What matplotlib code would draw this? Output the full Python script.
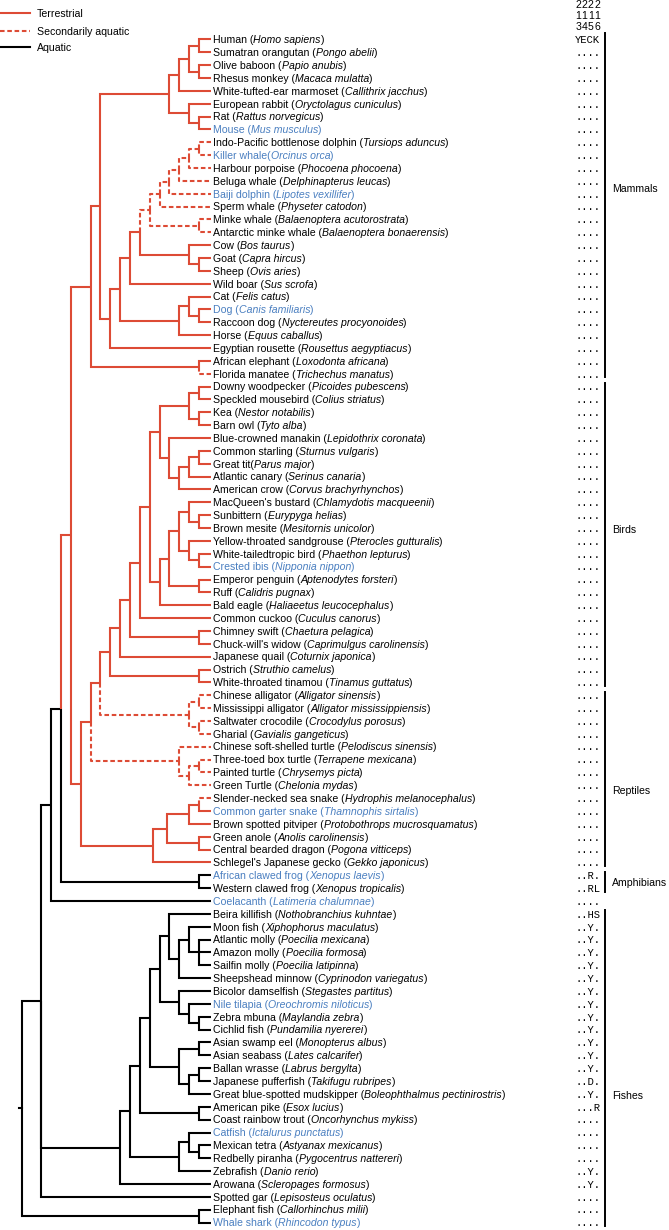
import matplotlib
matplotlib.use("Agg")
import matplotlib.pyplot as plt

plt.rcParams['font.family'] = ['Liberation Sans', 'DejaVu Sans']

# Leaf labels, top to bottom
COMMON = [
    "Human", "Sumatran orangutan", "Olive baboon", "Rhesus monkey",
    "White-tufted-ear marmoset", "European rabbit", "Rat", "Mouse",
    "Indo-Pacific bottlenose dolphin", "Killer whale", "Harbour porpoise",
    "Beluga whale", "Baiji dolphin", "Sperm whale", "Minke whale",
    "Antarctic minke whale", "Cow", "Goat", "Sheep", "Wild boar", "Cat", "Dog",
    "Raccoon dog", "Horse", "Egyptian rousette", "African elephant",
    "Florida manatee",
    "Downy woodpecker", "Speckled mousebird", "Kea", "Barn owl",
    "Blue-crowned manakin", "Common starling", "Great tit", "Atlantic canary",
    "American crow", "MacQueen's bustard", "Sunbittern", "Brown mesite",
    "Yellow-throated sandgrouse", "White-tailedtropic bird", "Crested ibis",
    "Emperor penguin", "Ruff", "Bald eagle", "Common cuckoo", "Chimney swift",
    "Chuck-will's widow", "Japanese quail", "Ostrich", "White-throated tinamou",
    "Chinese alligator", "Mississippi alligator", "Saltwater crocodile",
    "Gharial", "Chinese soft-shelled turtle", "Three-toed box turtle",
    "Painted turtle", "Green Turtle", "Slender-necked sea snake",
    "Common garter snake", "Brown spotted pitviper", "Green anole",
    "Central bearded dragon", "Schlegel's Japanese gecko",
    "African clawed frog", "Western clawed frog", "Coelacanth",
    "Beira killifish", "Moon fish", "Atlantic molly", "Amazon molly",
    "Sailfin molly", "Sheepshead minnow", "Bicolor damselfish", "Nile tilapia",
    "Zebra mbuna", "Cichlid fish", "Asian swamp eel", "Asian seabass",
    "Ballan wrasse", "Japanese pufferfish", "Great blue-spotted mudskipper",
    "American pike", "Coast rainbow trout", "Catfish", "Mexican tetra",
    "Redbelly piranha", "Zebrafish", "Arowana", "Spotted gar", "Elephant fish",
    "Whale shark",
]

SCIENTIFIC = [
    "Homo sapiens", "Pongo abelii", "Papio anubis", "Macaca mulatta",
    "Callithrix jacchus", "Oryctolagus cuniculus", "Rattus norvegicus",
    "Mus musculus", "Tursiops aduncus", "Orcinus orca", "Phocoena phocoena",
    "Delphinapterus leucas", "Lipotes vexillifer", "Physeter catodon",
    "Balaenoptera acutorostrata", "Balaenoptera bonaerensis", "Bos taurus",
    "Capra hircus", "Ovis aries", "Sus scrofa", "Felis catus",
    "Canis familiaris", "Nyctereutes procyonoides", "Equus caballus",
    "Rousettus aegyptiacus", "Loxodonta africana", "Trichechus manatus",
    "Picoides pubescens", "Colius striatus", "Nestor notabilis", "Tyto alba",
    "Lepidothrix coronata", "Sturnus vulgaris", "Parus major",
    "Serinus canaria", "Corvus brachyrhynchos", "Chlamydotis macqueenii",
    "Eurypyga helias", "Mesitornis unicolor", "Pterocles gutturalis",
    "Phaethon lepturus", "Nipponia nippon", "Aptenodytes forsteri",
    "Calidris pugnax", "Haliaeetus leucocephalus", "Cuculus canorus",
    "Chaetura pelagica", "Caprimulgus carolinensis", "Coturnix japonica",
    "Struthio camelus", "Tinamus guttatus", "Alligator sinensis",
    "Alligator mississippiensis", "Crocodylus porosus", "Gavialis gangeticus",
    "Pelodiscus sinensis", "Terrapene mexicana", "Chrysemys picta",
    "Chelonia mydas", "Hydrophis melanocephalus", "Thamnophis sirtalis",
    "Protobothrops mucrosquamatus", "Anolis carolinensis", "Pogona vitticeps",
    "Gekko japonicus", "Xenopus laevis", "Xenopus tropicalis",
    "Latimeria chalumnae", "Nothobranchius kuhntae", "Xiphophorus maculatus",
    "Poecilia mexicana", "Poecilia formosa", "Poecilia latipinna",
    "Cyprinodon variegatus", "Stegastes partitus", "Oreochromis niloticus",
    "Maylandia zebra", "Pundamilia nyererei", "Monopterus albus",
    "Lates calcarifer", "Labrus bergylta", "Takifugu rubripes",
    "Boleophthalmus pectinirostris", "Esox lucius", "Oncorhynchus mykiss",
    "Ictalurus punctatus", "Astyanax mexicanus", "Pygocentrus nattereri",
    "Danio rerio", "Scleropages formosus", "Lepisosteus oculatus",
    "Callorhinchus milii", "Rhincodon typus",
]

# residues 213-216, dots = same as human
CODES = (["YECK"] + ["...."] * 64 + ["..R.", "..RL", "....", "..HS"]
         + ["..Y."] * 12 + ["..D.", "..Y.", "...R", "....", "....", "....",
                            "....", "..Y.", "..Y.", "....", "....", "...."])
HEADER = ["2222", "1111", "3456"]

BLUE_NAMES = {"Mouse", "Killer whale", "Baiji dolphin", "Dog", "Crested ibis",
              "Common garter snake", "African clawed frog", "Coelacanth",
              "Nile tilapia", "Catfish", "Whale shark"}
NO_GAP = {"Killer whale", "Great tit"}

GROUPS = ["Mammals", "Birds", "Reptiles", "Amphibians", "Fishes"]
GROUP_ROWS = [(1, 27), (28, 51), (52, 65), (66, 67), (69, 93)]

# topology, leaves numbered in drawing order
# * = secondarily aquatic, ! = terrestrial clade, @h = node depth
EUARCH = "((((1,2),(3,4)),5),(6,(7,8)))"
CETACEA = "((((((9*,10*)*,11*)*,12*)*,13*)*,14*)*,(15*,16*)*)*"
LAURA = "((((CET,(17,(18,19))),20),((21,(22,23)),24)),25)"
MAMMALS = "((EUA,LAU),(26,27*))"
BIRDS = ("((((((((28,29),(30,31)),(32,(((33,34),35),36))),"
         "((((37,(38,39)),(40,(41,42))),(43,44)),45)),46),(47,48)),49),(50,51))")
CROCS = "((52*,53*)*,(54*,55*)*)*"
TURTLES = "(56*,((57*,58*)*,59*)*)*"
SQUAMATA = "((((60*,61),62),(63,64))@4.2,65)@5.7"
SAUROPSIDS = "(((BIR,CRO),TUR),SQU)"
ACTINO = ("((((((69,((70,(71,72,73)),74)),(75,(76,(77,78)))),"
          "((79,80),((81,82),83))),(84,85)),((86,(87,88)),89)),90),91)")
TREE = "((((((MAM,SAU)!,(66,67)),68),ACT),(92,93))"

newick = (TREE.replace("MAM", MAMMALS).replace("SAU", SAUROPSIDS)
          .replace("ACT", ACTINO).replace("EUA", EUARCH).replace("LAU", LAURA)
          .replace("CET", CETACEA).replace("BIR", BIRDS).replace("CRO", CROCS)
          .replace("TUR", TURTLES).replace("SQU", SQUAMATA))


def parse(s, i=0):
    node = {"kids": [], "leaf": None, "dash": False, "red": False, "fix": None}
    if s[i] == "(":
        i += 1
        while True:
            kid, i = parse(s, i)
            node["kids"].append(kid)
            if s[i] == ",":
                i += 1
            else:
                i += 1
                break
    else:
        j = i
        while s[i].isdigit():
            i += 1
        node["leaf"] = int(s[j:i])
    while i < len(s) and s[i] in "*!@":
        if s[i] == "@":
            j = i + 1
            i = j
            while s[i].isdigit() or s[i] == ".":
                i += 1
            node["fix"] = float(s[j:i])
            continue
        node["dash" if s[i] == "*" else "red"] = True
        i += 1
    return node, i


root, _ = parse(newick)

# layout in pixel units
Y0, DY = 39.4, 12.86
X_TIP, X_NODE0, STEP = 211, 208.8, 9.85
RED = "#dd4b35"
BLUE = "#4a7fc0"


def layout(n):
    if n["leaf"] is not None:
        n["h"] = 0
        n["y"] = Y0 + (n["leaf"] - 1) * DY
        n["x"] = X_TIP
        return
    for k in n["kids"]:
        layout(k)
    n["h"] = max(k["h"] for k in n["kids"]) + 1
    n["y"] = (n["kids"][0]["y"] + n["kids"][-1]["y"]) / 2
    n["x"] = X_NODE0 - STEP * (n["fix"] if n["fix"] else n["h"])


layout(root)

fig = plt.figure(figsize=(6.69, 12.30), dpi=100)
ax = fig.add_axes([0, 0, 1, 1])
ax.set_xlim(0, 669)
ax.set_ylim(1230, 0)
ax.axis("off")

LW = 1.5
DASH = (0, (2.2, 1.3))


def draw(n, red=False):
    for k in n["kids"]:
        kred = red or k["red"]
        ax.plot([n["x"], n["x"], k["x"]], [n["y"], k["y"], k["y"]],
                color=RED if kred else "black", lw=LW,
                ls=DASH if k["dash"] else "-",
                solid_joinstyle="miter", solid_capstyle="butt")
        draw(k, kred)


draw(root)
ax.plot([root["x"] - 3, root["x"]], [root["y"], root["y"]], color="black", lw=LW)

FS = 7.6
BASE = 3.8   # baseline offset below the row centre

# legend
for yy, lab, col, ls in [(13.3, "Terrestrial", RED, "-"),
                         (31, "Secondarily aquatic", RED, DASH),
                         (47.3, "Aquatic", "black", "-")]:
    ax.plot([0, 30], [yy, yy], color=col, lw=LW, ls=ls)
    ax.text(37, yy + BASE, lab, fontsize=FS, va="baseline")

# leaf labels with italic species names
renderer = fig.canvas.get_renderer()
for i, (com, sci) in enumerate(zip(COMMON, SCIENTIFIC)):
    y = Y0 + i * DY + BASE
    col = BLUE if com in BLUE_NAMES else "black"
    x = 213
    for piece, style in [(com + ("(" if com in NO_GAP else " ("), "normal"),
                         (sci, "italic"), (")", "normal")]:
        t = ax.text(x, y, piece, fontsize=FS, style=style, color=col,
                    va="baseline", ha="left")
        x = t.get_window_extent(renderer).x1

# residue column (monospace, header digits placed on the same columns)
COL_X = 575
CHAR_W = 0.6 * FS * 100 / 72
for i, code in enumerate(CODES):
    ax.text(COL_X, Y0 + i * DY + BASE, code, fontsize=FS,
            family="Liberation Mono", va="baseline")
for j, hd in enumerate(HEADER):
    for c, ch in enumerate(hd):
        ax.text(COL_X + (c + 0.5) * CHAR_W, 4 + 11.3 * j + BASE, ch,
                fontsize=FS, va="baseline", ha="center")

# group bars and labels
LABEL_ROWS = [12.6, 39.1, 59.4, 66.5, 83.1]
for g, (name, (a, b), lr) in enumerate(zip(GROUPS, GROUP_ROWS, LABEL_ROWS)):
    ya = Y0 + (a - 1) * DY - DY / 2 + 3 - (3 if g == 0 else 0)
    yb = Y0 + (b - 1) * DY + DY / 2 - 3
    ax.plot([605, 605], [ya, yb], color="black", lw=1.4)
    ax.text(612, Y0 + (lr - 1) * DY + BASE, name, fontsize=FS, va="baseline")

fig.savefig("out.png", dpi=100)
